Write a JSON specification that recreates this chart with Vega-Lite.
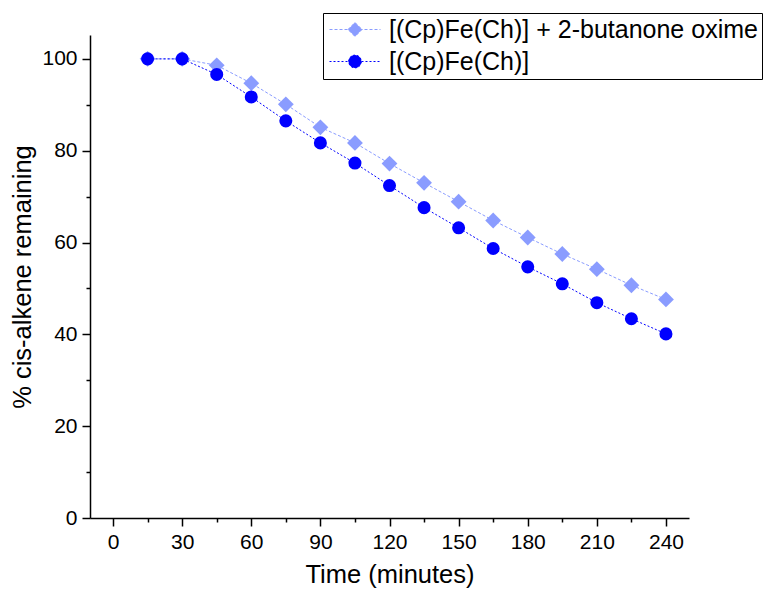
{
  "$schema": "https://vega.github.io/schema/vega-lite/v6.json",
  "width": 599,
  "height": 483,
  "autosize": "none",
  "padding": {"left": 90, "top": 35, "right": 74, "bottom": 75},
  "background": "white",
  "config": {
    "view": {"stroke": null},
    "font": "Liberation Sans",
    "axis": {
      "grid": false,
      "domainColor": "black",
      "domainWidth": 1.5,
      "tickColor": "black",
      "tickWidth": 1.5,
      "tickSize": 8,
      "labelFont": "Liberation Sans",
      "labelFontSize": 21,
      "labelColor": "black",
      "labelPadding": 5,
      "titleFont": "Liberation Sans",
      "titleFontSize": 25.5,
      "titleFontWeight": "normal",
      "titleColor": "black"
    }
  },
  "data": {
    "values": [
      {"s": "[(Cp)Fe(Ch)] + 2-butanone oxime", "t": 15, "v": 100},
      {"s": "[(Cp)Fe(Ch)] + 2-butanone oxime", "t": 30, "v": 100},
      {"s": "[(Cp)Fe(Ch)] + 2-butanone oxime", "t": 45, "v": 98.6},
      {"s": "[(Cp)Fe(Ch)] + 2-butanone oxime", "t": 60, "v": 94.7},
      {"s": "[(Cp)Fe(Ch)] + 2-butanone oxime", "t": 75, "v": 90.1},
      {"s": "[(Cp)Fe(Ch)] + 2-butanone oxime", "t": 90, "v": 85.1},
      {"s": "[(Cp)Fe(Ch)] + 2-butanone oxime", "t": 105, "v": 81.7},
      {"s": "[(Cp)Fe(Ch)] + 2-butanone oxime", "t": 120, "v": 77.2},
      {"s": "[(Cp)Fe(Ch)] + 2-butanone oxime", "t": 135, "v": 73.0},
      {"s": "[(Cp)Fe(Ch)] + 2-butanone oxime", "t": 150, "v": 68.9},
      {"s": "[(Cp)Fe(Ch)] + 2-butanone oxime", "t": 165, "v": 64.8},
      {"s": "[(Cp)Fe(Ch)] + 2-butanone oxime", "t": 180, "v": 61.1},
      {"s": "[(Cp)Fe(Ch)] + 2-butanone oxime", "t": 195, "v": 57.5},
      {"s": "[(Cp)Fe(Ch)] + 2-butanone oxime", "t": 210, "v": 54.2},
      {"s": "[(Cp)Fe(Ch)] + 2-butanone oxime", "t": 225, "v": 50.7},
      {"s": "[(Cp)Fe(Ch)] + 2-butanone oxime", "t": 240, "v": 47.6},
      {"s": "[(Cp)Fe(Ch)]", "t": 15, "v": 100},
      {"s": "[(Cp)Fe(Ch)]", "t": 30, "v": 100},
      {"s": "[(Cp)Fe(Ch)]", "t": 45, "v": 96.6},
      {"s": "[(Cp)Fe(Ch)]", "t": 60, "v": 91.7},
      {"s": "[(Cp)Fe(Ch)]", "t": 75, "v": 86.5},
      {"s": "[(Cp)Fe(Ch)]", "t": 90, "v": 81.7},
      {"s": "[(Cp)Fe(Ch)]", "t": 105, "v": 77.3},
      {"s": "[(Cp)Fe(Ch)]", "t": 120, "v": 72.4},
      {"s": "[(Cp)Fe(Ch)]", "t": 135, "v": 67.6},
      {"s": "[(Cp)Fe(Ch)]", "t": 150, "v": 63.2},
      {"s": "[(Cp)Fe(Ch)]", "t": 165, "v": 58.7},
      {"s": "[(Cp)Fe(Ch)]", "t": 180, "v": 54.7},
      {"s": "[(Cp)Fe(Ch)]", "t": 195, "v": 51.0},
      {"s": "[(Cp)Fe(Ch)]", "t": 210, "v": 46.9},
      {"s": "[(Cp)Fe(Ch)]", "t": 225, "v": 43.4},
      {"s": "[(Cp)Fe(Ch)]", "t": 240, "v": 40.1}
    ]
  },
  "layer": [
    {
      "mark": {"type": "line", "strokeWidth": 1},
      "encoding": {
        "x": {
          "field": "t", "type": "quantitative",
          "scale": {"domain": [-10, 250], "nice": false, "zero": false},
          "axis": {"orient": "bottom", "values": [0, 30, 60, 90, 120, 150, 180, 210, 240], "title": "Time (minutes)", "titlePadding": 10}
        },
        "y": {
          "field": "v", "type": "quantitative",
          "scale": {"domain": [0, 105.2], "nice": false, "zero": false},
          "axis": {"orient": "left", "values": [0, 20, 40, 60, 80, 100], "title": "% cis-alkene remaining", "titlePadding": 6}
        },
        "color": {
          "field": "s", "type": "nominal",
          "scale": {"domain": ["[(Cp)Fe(Ch)] + 2-butanone oxime", "[(Cp)Fe(Ch)]"], "range": ["#8a9cff", "#0000ff"]},
          "legend": {
            "title": null,
            "orient": "none",
            "legendX": 233,
            "legendY": -22,
            "strokeColor": "black",
            "fillColor": "white",
            "padding": 4,
            "labelFont": "Liberation Sans",
            "labelFontSize": 25,
            "labelColor": "black",
            "labelOffset": 37,
            "labelLimit": 0,
            "labelExpr": "datum.label + '   '",
            "rowPadding": 6,
            "symbolSize": 400,
            "encode": {
              "symbols": {
                "update": {
                  "shape": {"signal": "datum.value === '[(Cp)Fe(Ch)]' ? 'M-1,0H4.1M2.19,0A0.64,0.64,0,1,1,0.91,0A0.64,0.64,0,1,1,2.19,0Z' : 'M-1,0H4.1M1.55,-0.7L2.25,0L1.55,0.7L0.85,0Z'"},
                  "size": {"value": 400},
                  "fill": {"signal": "datum.value === '[(Cp)Fe(Ch)]' ? '#0000ff' : '#8a9cff'"},
                  "stroke": {"signal": "datum.value === '[(Cp)Fe(Ch)]' ? '#0000ff' : '#8a9cff'"},
                  "strokeDash": {"signal": "datum.value === '[(Cp)Fe(Ch)]' ? [2,2] : [3,2]"},
                  "strokeWidth": {"value": 1},
                  "opacity": {"value": 1},
                  "fillOpacity": {"value": 1}
                }
              }
            }
          }
        },
        "strokeDash": {
          "field": "s", "type": "nominal",
          "scale": {"domain": ["[(Cp)Fe(Ch)] + 2-butanone oxime", "[(Cp)Fe(Ch)]"], "range": [[3, 2], [2, 2]]},
          "legend": null
        }
      }
    },
    {
      "transform": [{"filter": "datum.s === '[(Cp)Fe(Ch)] + 2-butanone oxime'"}],
      "mark": {"type": "point", "filled": true, "size": 250, "opacity": 1, "shape": "diamond"},
      "encoding": {
        "x": {
          "field": "t", "type": "quantitative",
          "axis": {"orient": "bottom", "values": [15, 45, 75, 105, 135, 165, 195, 225], "labels": false, "domain": false, "tickSize": 4, "title": null}
        },
        "y": {
          "field": "v", "type": "quantitative",
          "axis": {"orient": "left", "values": [10, 30, 50, 70, 90], "labels": false, "domain": false, "tickSize": 4, "title": null}
        },
        "color": {"field": "s", "type": "nominal"}
      }
    },
    {
      "transform": [{"filter": "datum.s === '[(Cp)Fe(Ch)]'"}],
      "mark": {"type": "point", "filled": true, "size": 170, "opacity": 1, "shape": "circle"},
      "encoding": {
        "x": {"field": "t", "type": "quantitative", "axis": null},
        "y": {"field": "v", "type": "quantitative", "axis": null},
        "color": {"field": "s", "type": "nominal"}
      }
    }
  ],
  "resolve": {"axis": {"x": "independent", "y": "independent"}}
}
